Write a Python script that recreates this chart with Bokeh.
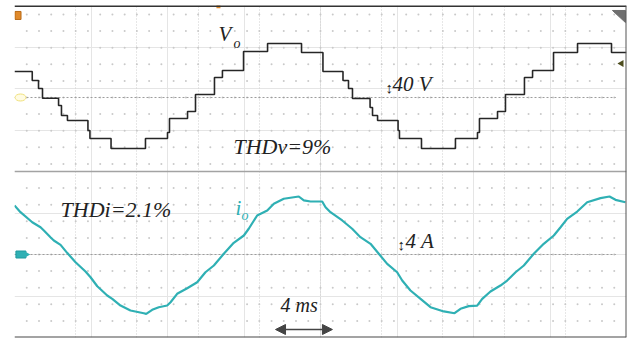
import numpy as np
from bokeh.plotting import figure
from bokeh.models import Range1d, Span, Grid, FixedTicker, Arrow, NormalHead
from bokeh.core.properties import value
from bokeh.embed import file_html
from bokeh.resources import INLINE

# ---- data (time in ms, 4 ms/div) ----
# output voltage Vo (staircase), time of each level change and level in V (40 V/div)
v_time = [0.00, 1.16, 1.57, 1.83, 2.88, 3.07, 3.46, 4.80, 4.93, 6.31,
          8.56, 10.00, 10.13, 11.31, 11.83, 13.07, 13.59, 14.97, 16.54, 18.76,
          20.16, 21.47, 21.83, 22.09, 23.24, 23.40, 23.73, 25.07, 25.16, 26.60,
          28.82, 30.26, 30.39, 31.57, 32.09, 33.33, 33.86, 35.23, 36.80, 39.02, 40.0]
v_level = [25.1, 16.4, 8.7, -0.7, -7.7, -17.4, -22.2, -31.8, -39.5, -49.2,
           -39.5, -33.7, -20.2, -13.5, 2.9, 19.3, 26.0, 44.3, 52.1, 43.4,
           25.1, 16.4, 8.7, -1.0, -9.6, -17.4, -22.2, -31.8, -39.5, -49.2,
           -39.5, -33.7, -20.2, -13.5, 2.9, 19.3, 26.0, 43.4, 52.1, 43.4, 43.4]

# output current io in A (4 A/div)
i_time = [0.00, 0.39, 1.16, 1.70, 1.92, 2.35, 2.57, 3.01, 3.44, 3.99, 4.64, 4.97,
          5.41, 6.06, 6.39, 6.93, 7.58, 8.45, 8.61, 9.00, 9.43, 9.98, 10.20, 10.63,
          11.29, 11.94, 12.48, 13.03, 13.68, 14.33, 14.99, 15.31, 15.86, 16.52, 16.95,
          17.60, 18.58, 18.91, 19.35, 20.11, 20.33, 20.65, 21.42, 22.07, 22.61, 23.27,
          23.81, 24.36, 25.01, 25.34, 25.88, 26.54, 27.19, 28.06, 28.76, 29.15, 29.69,
          30.24, 30.57, 31.11, 31.76, 32.20, 32.75, 33.29, 33.94, 34.59, 35.25, 35.69,
          36.12, 36.78, 37.43, 38.30, 38.89, 39.28, 39.93]
i_value = [4.72, 4.08, 3.11, 2.63, 2.31, 1.67, 1.35, 0.93, 0.16, -0.74, -1.64, -2.19,
           -3.06, -3.95, -4.27, -4.92, -5.40, -5.66, -5.72, -5.33, -5.08, -4.92, -4.60, -3.79,
           -3.25, -2.67, -1.71, -1.06, 0.07, 1.13, 1.83, 2.48, 3.76, 4.24, 4.89,
           5.37, 5.59, 5.21, 5.11, 5.11, 4.56, 4.08, 3.28, 2.48, 1.67, 1.03,
           0.07, -0.90, -1.71, -2.51, -3.47, -4.27, -5.08, -5.49, -5.66, -5.23, -4.98,
           -4.92, -4.27, -3.57, -2.99, -2.51, -1.71, -1.06, 0.07, 1.03, 1.83, 2.63,
           3.44, 4.14, 5.04, 5.43, 5.59, 5.27, 5.04]

major_ticks = [0, 4, 8, 12, 16, 20, 24, 28, 32, 36]

# ---- figure: main y range in screen divisions (8 div), extra ranges per channel ----
p = figure(width=631, height=339, output_backend="svg", toolbar_location=None,
           x_axis_location=None, y_axis_location=None, title=None,
           x_range=Range1d(0, 40), y_range=Range1d(-4, 4))
p.min_border_left = 14
p.min_border_right = 5
p.min_border_top = 5
p.min_border_bottom = 2
p.outline_line_color = None
p.background_fill_color = "white"
p.border_fill_color = "white"
p.extra_y_ranges = {"volt": Range1d(-231.33, 88.67),
                    "amp": Range1d(-8.0, 24.0)}

# grid: dotted vertical major lines
p.add_layout(Grid(dimension=0, ticker=FixedTicker(ticks=major_ticks),
                  grid_line_color="#cfcfcf", grid_line_dash="1 2", grid_line_width=1))

# grid dots
dx = np.arange(0.8, 39.9, 0.8)
rows_up = 1.783 + 0.4 * np.arange(-4, 6)
rows_lo = -2.0 + 0.4 * np.arange(-4, 5)
rows = np.concatenate([rows_up, rows_lo])
gx, gy = np.meshgrid(dx, rows)
p.scatter(gx.ravel(), gy.ravel(), size=2, marker="circle", fill_color="#c9c9c9",
          line_color=None)

# centre lines of each channel
p.line([0, 39.3], [0, 0], y_range_name="volt", line_color="#9c9c9c", line_dash="2 2", line_width=1)
p.line([0, 39.3], [0, 0], y_range_name="amp", line_color="#9c9c9c", line_dash="2 2", line_width=1)

# frame
p.add_layout(Span(location=0, dimension="width", line_color="#a3a3a3", line_width=1.5))
p.add_layout(Span(location=4, dimension="width", line_color="#333333", line_width=3))
p.add_layout(Span(location=-4, dimension="width", line_color="#484848", line_width=2))
p.add_layout(Span(location=40, dimension="height", line_color="#555555", line_width=2))

# traces
p.step(v_time, v_level, mode="after", y_range_name="volt", line_color="#262626", line_width=1.6)
p.line(i_time, i_value, y_range_name="amp", line_color="#2fb0b4", line_width=2.2)

# scope markers
p.rect([0.23], [3.76], width=6, height=8, width_units="screen", height_units="screen",
       fill_color="#e08a2c", line_color="#b86a18")
p.scatter([13.33], [3.98], size=4, marker="square", fill_color="#e08a2c", line_color=None)
p.ellipse([0.39], [0.0], width=11, height=7, width_units="screen", height_units="screen",
          y_range_name="volt", fill_color="#fffbe2", line_color="#efe07a")
p.rect([0.42], [0.0], width=10, height=7, width_units="screen", height_units="screen",
       y_range_name="amp", fill_color="#2fb0b4", line_color="#1f9a9e")
p.scatter([0.80], [0.0], size=6, marker="triangle", angle=-np.pi / 2, y_range_name="amp",
          fill_color="#2fb0b4", line_color=None)
p.scatter([39.67], [2.60], size=7, marker="triangle", angle=np.pi / 2,
          fill_color="#4d4d1e", line_color=None)
p.patch([39.08, 39.93, 39.93], [3.88, 3.88, 3.59], fill_color="#6f6f6f", line_color="#6f6f6f")

font = value("Liberation Serif")
tcol = "#222222"
# voltage labels
p.text([13.33], [49.2], text=["V"], y_range_name="volt", text_font=font,
       text_font_style="italic", text_font_size="21px", text_color=tcol)
p.text([14.31], [45.0], text=["o"], y_range_name="volt", text_font=font,
       text_font_style="italic", text_font_size="14px", text_color=tcol)
p.text([14.31], [-58.8], text=["THDv=9%"], y_range_name="volt", text_font=font,
       text_font_style="italic", text_font_size="22px", text_color=tcol)
p.text([24.25], [1.9], text=["\u2195"], y_range_name="volt", text_font=font,
       text_font_size="15px", text_color=tcol)
p.text([24.71], [1.9], text=["40 V"], y_range_name="volt", text_font=font,
       text_font_style="italic", text_font_size="21px", text_color=tcol)
# current labels
p.text([3.01], [3.18], text=["THDi=2.1%"], y_range_name="amp", text_font=font,
       text_font_style="italic", text_font_size="22px", text_color=tcol)
p.text([14.44], [3.37], text=["i"], y_range_name="amp", text_font=font,
       text_font_style="italic", text_font_size="21px", text_color="#2fb0b4")
p.text([14.84], [3.05], text=["o"], y_range_name="amp", text_font=font,
       text_font_style="italic", text_font_size="14px", text_color="#2fb0b4")
p.text([25.04], [0.19], text=["\u2195"], y_range_name="amp", text_font=font,
       text_font_size="15px", text_color=tcol)
p.text([25.56], [0.19], text=["4 A"], y_range_name="amp", text_font=font,
       text_font_style="italic", text_font_size="21px", text_color=tcol)
p.text([17.39], [-5.88], text=["4 ms"], y_range_name="amp", text_font=font,
       text_font_style="italic", text_font_size="20px", text_color=tcol)
p.add_layout(Arrow(x_start=17.06, x_end=20.78, y_start=-7.23, y_end=-7.23, y_range_name="amp",
                   line_color="#444444", line_width=1.5,
                   start=NormalHead(size=10, fill_color="#444444", line_color="#444444"),
                   end=NormalHead(size=10, fill_color="#444444", line_color="#444444")))

open("out.html", "w").write(file_html(p, INLINE))
